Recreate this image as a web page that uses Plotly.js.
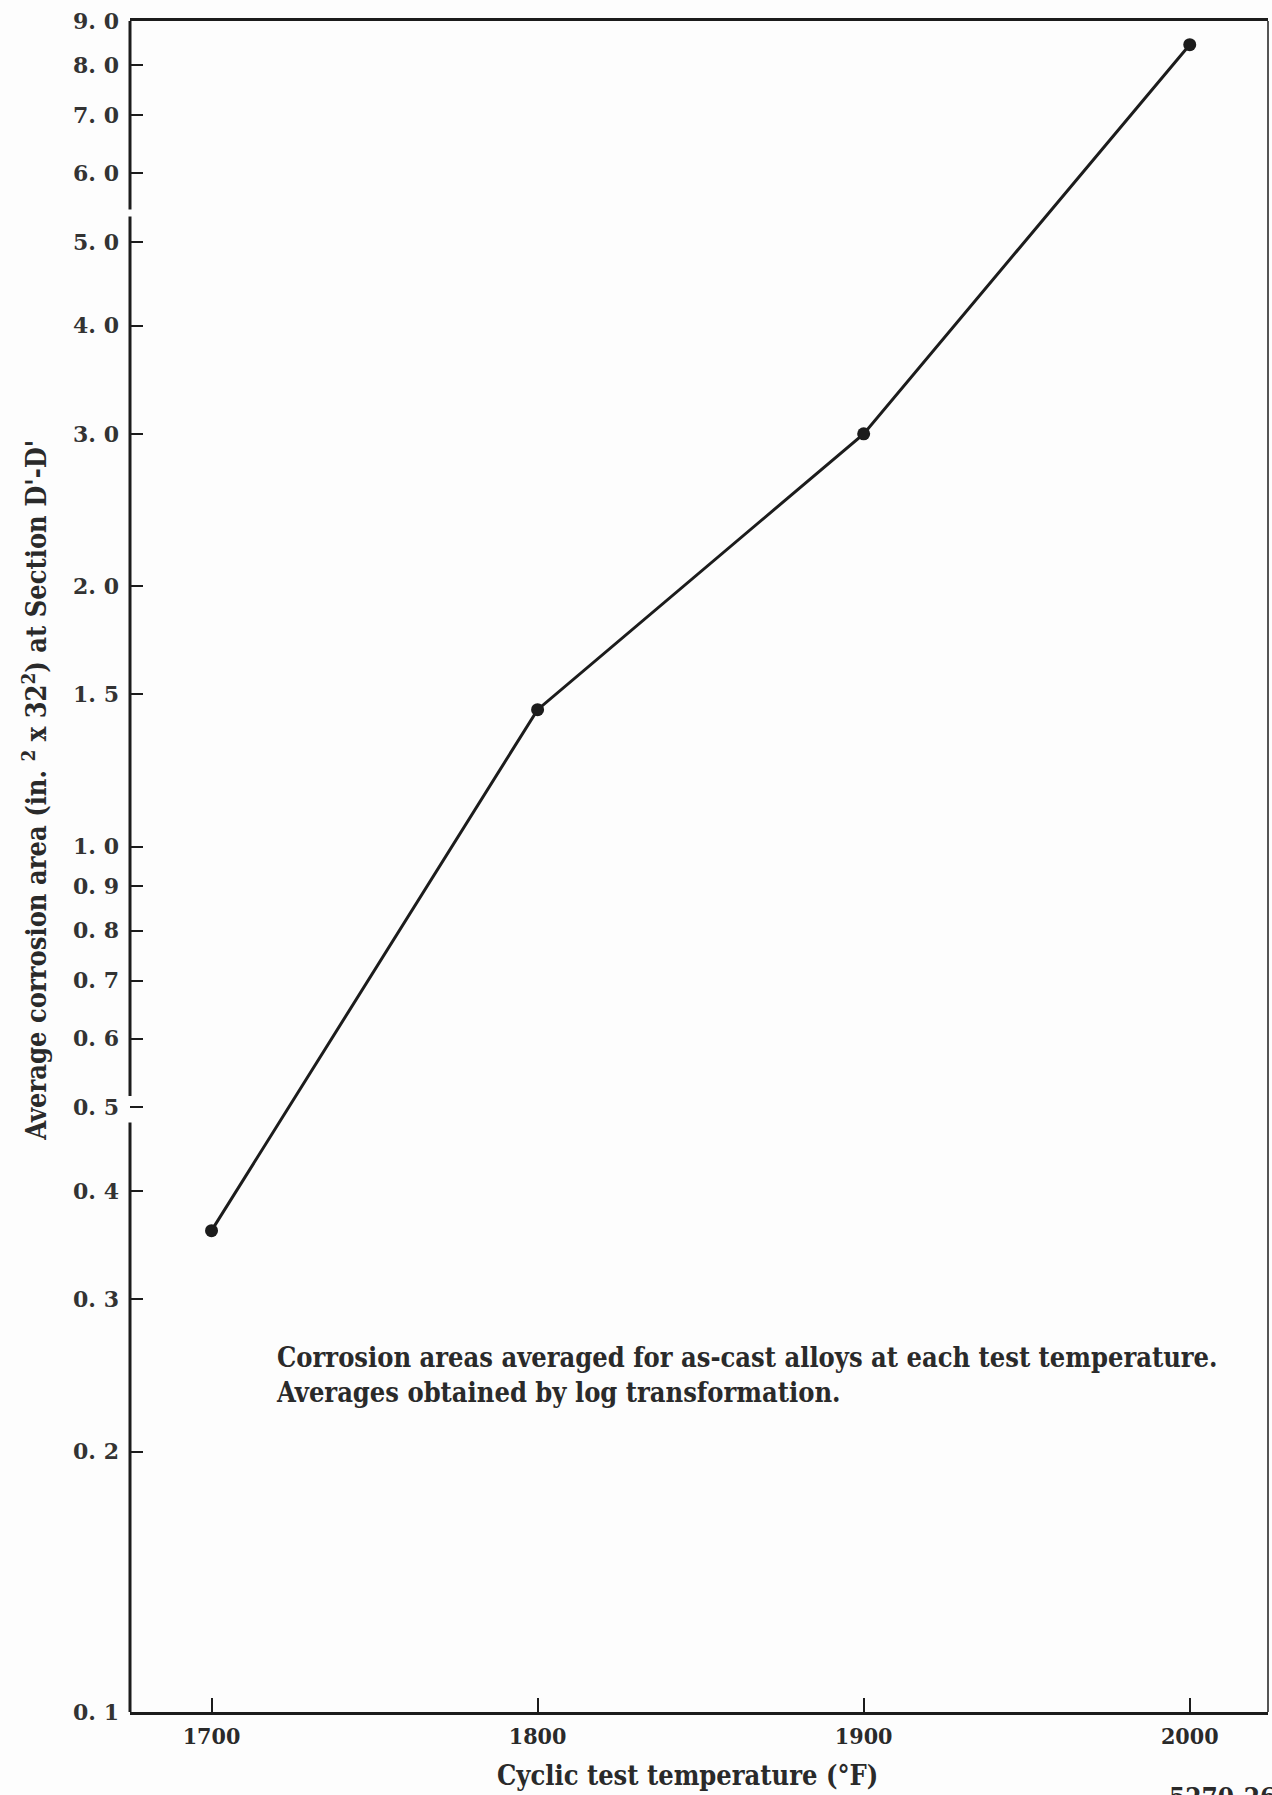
<!DOCTYPE html>
<html>
<head>
<meta charset="utf-8">
<script src="https://cdn.plot.ly/plotly-3.0.1.min.js"></script>
<style>
  html, body { margin: 0; padding: 0; background: #fdfdfd; }
  #chart { width: 1272px; height: 1795px; }
</style>
</head>
<body>
<div id="chart"></div>
<script>
// Average corrosion area versus cyclic test temperature
const temperatureF = [1700, 1800, 1900, 2000];
const corrosionArea = [0.36, 1.44, 3.0, 8.45];

const xTickVals = [1700, 1800, 1900, 2000];
const yTickVals = [0.1, 0.2, 0.3, 0.4, 0.5, 0.6, 0.7, 0.8, 0.9, 1.0, 1.5, 2.0, 3.0, 4.0, 5.0, 6.0, 7.0, 8.0, 9.0];
const yTickText = ["0. 1", "0. 2", "0. 3", "0. 4", "0. 5", "0. 6", "0. 7", "0. 8", "0. 9", "1. 0", "1. 5", "2. 0", "3. 0", "4. 0", "5. 0", "6. 0", "7. 0", "8. 0", "9. 0"];

// left axis is drawn in pieces, leaving the small breaks of the printed scale
const yAxisSegments = [[0.1, 0.48], [0.515, 5.35], [5.45, 9.0]];

const xRange = [1675, 2024];
const yLogRange = [-1, Math.log10(9)];

const ink = '#1c1c1c';
const serifCond = '"DejaVu Serif Condensed", "DejaVu Serif", serif';
const serif = '"DejaVu Serif", serif';

function yPaper(v) {
  return (Math.log10(v) - yLogRange[0]) / (yLogRange[1] - yLogRange[0]);
}

const shapes = yAxisSegments.map(seg => ({
  type: 'line', xref: 'paper', yref: 'paper',
  x0: 0, x1: 0, y0: yPaper(seg[0]), y1: yPaper(seg[1]),
  line: { color: ink, width: 3 }
}));
shapes.push({
  type: 'line', xref: 'paper', yref: 'paper',
  x0: 1, x1: 1, y0: 0, y1: 1,
  line: { color: '#555', width: 2 }
});

const trace = {
  x: temperatureF,
  y: corrosionArea,
  type: 'scatter',
  mode: 'lines+markers',
  line: { color: ink, width: 3 },
  marker: { color: ink, size: 13 },
  hoverinfo: 'x+y',
  showlegend: false
};

const layout = {
  width: 1272,
  height: 1795,
  margin: { l: 130, r: 4, t: 21, b: 83 },
  paper_bgcolor: '#fdfdfd',
  plot_bgcolor: '#fdfdfd',
  showlegend: false,
  xaxis: {
    range: xRange,
    tickvals: xTickVals,
    ticks: 'inside',
    ticklen: 14,
    tickwidth: 2,
    tickcolor: ink,
    showline: true,
    linewidth: 3,
    linecolor: ink,
    mirror: true,
    showgrid: false,
    zeroline: false,
    ticklabelstandoff: 1,
    tickfont: { family: serifCond, size: 23, color: '#2a2a2a', weight: 'bold' }
  },
  yaxis: {
    type: 'log',
    range: yLogRange,
    tickvals: yTickVals,
    ticktext: yTickText,
    ticks: 'inside',
    ticklen: 13,
    tickwidth: 2,
    tickcolor: ink,
    showline: false,
    showgrid: false,
    zeroline: false,
    ticklabelstandoff: 10,
    tickfont: { family: serif, size: 22, color: '#333', weight: 'bold' }
  },
  shapes: shapes,
  annotations: [
    {
      text: 'Cyclic test temperature (°F)',
      xref: 'paper', yref: 'paper',
      x: 0.49, y: -0.0373,
      xanchor: 'center', yanchor: 'middle',
      showarrow: false,
      font: { family: serifCond, size: 27, color: '#2a2a2a', weight: 'bold' }
    },
    {
      text: "Average corrosion area (in. <sup>2</sup> x 32<sup>2</sup>) at Section D'-D'",
      xref: 'paper', yref: 'paper',
      x: -0.084, y: 0.545,
      xanchor: 'center', yanchor: 'middle',
      textangle: -90,
      showarrow: false,
      font: { family: serifCond, size: 27, color: '#2a2a2a', weight: 'bold' }
    },
    {
      text: 'Corrosion areas averaged for as-cast alloys at each test temperature.<br>Averages obtained by log transformation.',
      xref: 'paper', yref: 'paper',
      x: 0.1265, y: 0.199,
      xanchor: 'left', yanchor: 'middle',
      align: 'left',
      showarrow: false,
      font: { family: serifCond, size: 27, color: '#2a2a2a', weight: 'bold' }
    },
    {
      text: '5270-26',
      xref: 'paper', yref: 'paper',
      x: 0.911, y: -0.0405,
      xanchor: 'left', yanchor: 'top',
      showarrow: false,
      font: { family: serifCond, size: 26, color: '#2a2a2a', weight: 'bold' }
    }
  ]
};

Plotly.newPlot('chart', [trace], layout, { displayModeBar: false, staticPlot: true });
</script>
</body>
</html>
